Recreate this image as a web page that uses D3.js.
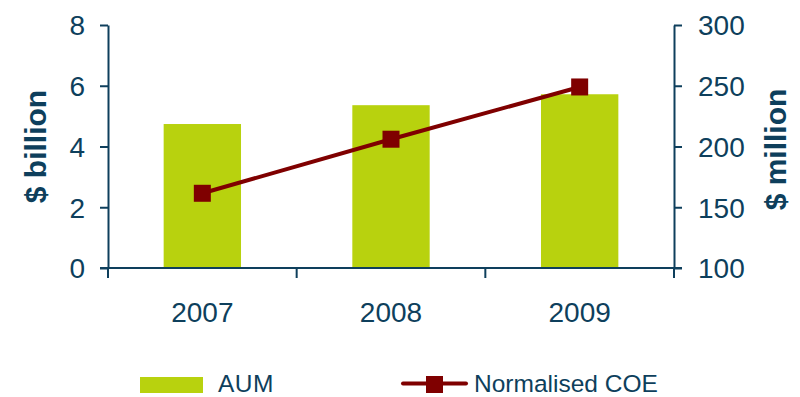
<!DOCTYPE html>
<html>
<head>
<meta charset="utf-8">
<script src="https://cdn.jsdelivr.net/npm/d3@7"></script>
<style>
  html, body { margin: 0; padding: 0; background: #fff; }
  svg text { font-family: "Liberation Sans", Arial, sans-serif; fill: #0e3f5c; }
</style>
</head>
<body>
<svg id="chart" width="800" height="397"></svg>
<script>
// Assets under management ($ billion) and normalised cost of equity ($ million)
const years = ["2007", "2008", "2009"];
const aum = [4.74, 5.36, 5.72];
const coe = [161.5, 206, 249];
const leftTicks = [0, 2, 4, 6, 8];
const rightTicks = [100, 150, 200, 250, 300];

const ink = "#0e3f5c";
const barColor = "#b8d20e";
const lineColor = "#7f0000";

const svg = d3.select("#chart");
const margin = { left: 108, right: 126, top: 25, bottom: 129 };
const W = 800, H = 397;

const x = d3.scaleBand().domain(years)
  .range([margin.left, W - margin.right]).paddingInner(0).paddingOuter(0);
const yL = d3.scaleLinear().domain([0, 8]).range([H - margin.bottom, margin.top]);
const yR = d3.scaleLinear().domain([100, 300]).range([H - margin.bottom, margin.top]);

const barW = x.bandwidth() * 0.41;

// Bars
svg.append("g").selectAll("rect").data(years).join("rect")
  .attr("x", (d) => x(d) + x.bandwidth() / 2 - barW / 2)
  .attr("y", (d, i) => yL(aum[i]))
  .attr("width", barW)
  .attr("height", (d, i) => yL(0) - yL(aum[i]))
  .attr("fill", barColor);

// Left axis
const gL = svg.append("g").attr("transform", `translate(${margin.left},0)`)
  .call(d3.axisLeft(yL).tickValues(leftTicks).tickSize(8).tickPadding(15).tickSizeOuter(0));
// Right axis
const gR = svg.append("g").attr("transform", `translate(${W - margin.right},0)`)
  .call(d3.axisRight(yR).tickValues(rightTicks).tickSize(8).tickPadding(16).tickSizeOuter(0));

[gL, gR].forEach(g => {
  g.attr("font-size", null).attr("font-family", null);
  g.select(".domain").attr("stroke", ink).attr("stroke-width", 2);
  g.selectAll(".tick line").attr("stroke", ink).attr("stroke-width", 2);
  g.selectAll(".tick text").style("font-size", "28px").attr("fill", ink)
    .attr("dy", "0.35em");
});

// Category axis: baseline with boundary ticks
const base = yL(0);
const gX = svg.append("g");
gX.append("line")
  .attr("x1", margin.left - 8).attr("x2", W - margin.right + 8)
  .attr("y1", base).attr("y2", base)
  .attr("stroke", ink).attr("stroke-width", 2);
const bounds = years.map(d => x(d)).concat([x(years[years.length - 1]) + x.bandwidth()]);
gX.selectAll("line.tk").data(bounds).join("line")
  .attr("class", "tk")
  .attr("x1", d => d).attr("x2", d => d)
  .attr("y1", base).attr("y2", base + 10)
  .attr("stroke", ink).attr("stroke-width", 2);
gX.selectAll("text").data(years).join("text")
  .attr("x", d => x(d) + x.bandwidth() / 2)
  .attr("y", 322)
  .attr("text-anchor", "middle")
  .style("font-size", "28px")
  .text(d => d);

// Axis titles
svg.append("text")
  .attr("transform", `translate(46, ${(yL(0) + yL(8)) / 2}) rotate(-90)`)
  .attr("text-anchor", "middle")
  .style("font-size", "30px").attr("font-weight", "bold")
  .text("$ billion");
svg.append("text")
  .attr("transform", `translate(786, ${(yR(100) + yR(300)) / 2 + 3}) rotate(-90)`)
  .attr("text-anchor", "middle")
  .style("font-size", "30px").attr("font-weight", "bold")
  .text("$ million");

// COE line with square markers
const line = d3.line()
  .x((d, i) => x(years[i]) + x.bandwidth() / 2)
  .y(d => yR(d));
svg.append("path").datum(coe)
  .attr("d", line)
  .attr("fill", "none")
  .attr("stroke", lineColor)
  .attr("stroke-width", 4);
const ms = 17;
svg.append("g").selectAll("rect").data(coe).join("rect")
  .attr("x", (d, i) => x(years[i]) + x.bandwidth() / 2 - ms / 2)
  .attr("y", d => yR(d) - ms / 2)
  .attr("width", ms).attr("height", ms)
  .attr("fill", lineColor);

// Legend
const lg = svg.append("g");
lg.append("rect").attr("x", 140).attr("y", 377).attr("width", 63).attr("height", 16)
  .attr("fill", barColor);
lg.append("text").attr("x", 218).attr("y", 392).style("font-size", "24.5px")
  .attr("letter-spacing", "0.5").text("AUM");
lg.append("line").attr("x1", 403).attr("x2", 466).attr("y1", 383.5).attr("y2", 383.5)
  .attr("stroke", lineColor).attr("stroke-width", 4).attr("stroke-linecap", "round");
lg.append("rect").attr("x", 426).attr("y", 376).attr("width", 17).attr("height", 17)
  .attr("fill", lineColor);
lg.append("text").attr("x", 474).attr("y", 392).style("font-size", "24.5px")
  .text("Normalised COE");
</script>
</body>
</html>
